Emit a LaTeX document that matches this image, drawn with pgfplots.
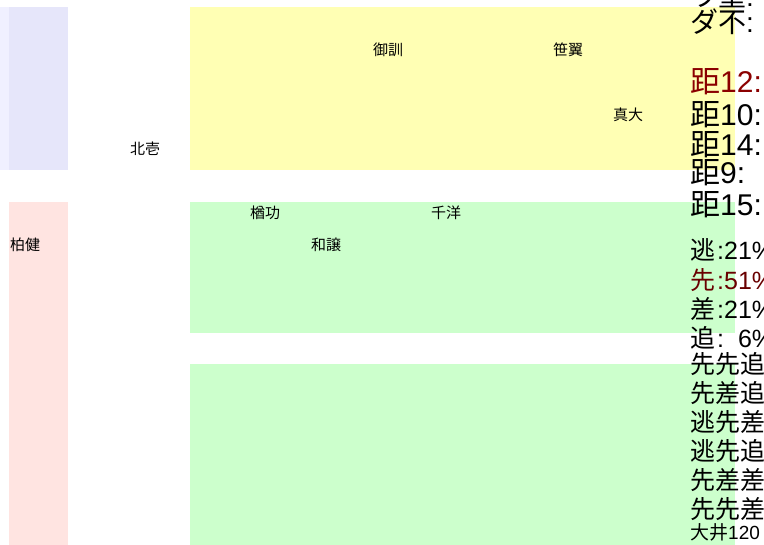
\documentclass[border=0pt]{standalone}
\usepackage{pgfplots}
\pgfplotsset{compat=1.18}
\usepackage{fontspec}
\setmainfont{Liberation Sans}
\newfontfamily\cjk{Noto Sans CJK JP}
\definecolor{lavlight}{RGB}{240,240,255}
\definecolor{lav}{RGB}{230,230,250}
\definecolor{pinkbg}{RGB}{255,228,225}
\definecolor{yellowbg}{RGB}{255,255,180}
\definecolor{greenbg}{RGB}{204,255,204}
\definecolor{redA}{RGB}{139,0,0}
\definecolor{redB}{RGB}{105,0,0}
\newcommand{\fs}[1]{\fontsize{#1bp}{#1bp}\selectfont}
\newcommand{\J}[1]{{\cjk #1}}
\begin{document}
\begin{tikzpicture}
\begin{axis}[at={(0,0)}, anchor=south west, scale only axis,
  width=764bp, height=545bp, xmin=0, xmax=764, ymin=0, ymax=545,
  y dir=reverse, hide axis, clip=false]
% background rectangles (x1,y1)-(x2,y2) in pixel units
\addplot[draw=none, fill=lavlight, no markers] coordinates {(0,7) (9,7) (9,170) (0,170)} -- cycle;
\addplot[draw=none, fill=lav, no markers] coordinates {(9,7) (68,7) (68,170) (9,170)} -- cycle;
\addplot[draw=none, fill=pinkbg, no markers] coordinates {(9,202) (68,202) (68,545) (9,545)} -- cycle;
\addplot[draw=none, fill=yellowbg, no markers] coordinates {(190,7) (735,7) (735,170) (190,170)} -- cycle;
\addplot[draw=none, fill=greenbg, no markers] coordinates {(190,202) (735,202) (735,333) (190,333)} -- cycle;
\addplot[draw=none, fill=greenbg, no markers] coordinates {(190,364) (735,364) (735,545) (190,545)} -- cycle;
% small labels
\begin{scope}[every node/.style={inner sep=0pt, font=\cjk\fs{15}}]
\node at (axis cs:388,50) {御訓};
\node at (axis cs:568,50) {笹翼};
\node at (axis cs:628,115) {真大};
\node at (axis cs:145,149) {北壱};
\node at (axis cs:25,245) {柏健};
\node at (axis cs:265,213) {楢功};
\node at (axis cs:446,213) {千洋};
\node at (axis cs:326,245) {和譲};
\end{scope}
% right-hand text
\begin{scope}[every node/.style={inner sep=0pt, anchor=west}]
\node[font=\fs{28}] at (axis cs:690,-5) {\J{ワ重}:};
\node[font=\fs{28}] at (axis cs:690,22) {\J{ダ不}:};
\node[font=\fs{30}, text=redA] at (axis cs:690,82) {\J{距}12:};
\node[font=\fs{30}] at (axis cs:690,115) {\J{距}10:};
\node[font=\fs{30}] at (axis cs:690,145) {\J{距}14:};
\node[font=\fs{30}] at (axis cs:690,173) {\J{距}9:};
\node[font=\fs{30}] at (axis cs:690,205) {\J{距}15:};
\node[font=\fs{25}] at (axis cs:690,250) {\J{逃}\hspace{2bp}:21\%};
\node[font=\fs{25}, text=redB] at (axis cs:690,280) {\J{先}\hspace{2bp}:51\%};
\node[font=\fs{25}] at (axis cs:690,309) {\J{差}\hspace{2bp}:21\%};
\node[font=\fs{25}] at (axis cs:690,338) {\J{追}\hspace{2bp}:\phantom{2}6\%};
\node[font=\fs{25}] at (axis cs:690,364) {\J{先先追}};
\node[font=\fs{25}] at (axis cs:690,393) {\J{先差追}};
\node[font=\fs{25}] at (axis cs:690,422) {\J{逃先差}};
\node[font=\fs{25}] at (axis cs:690,451) {\J{逃先追}};
\node[font=\fs{25}] at (axis cs:690,480) {\J{先差差}};
\node[font=\fs{25}] at (axis cs:690,509) {\J{先先差}};
\node[font=\fs{19}] at (axis cs:690,532) {\J{大井}120};
\end{scope}
\end{axis}
\pgfresetboundingbox
\path[use as bounding box] (0,0) rectangle (764bp,545bp);
\end{tikzpicture}
\end{document}
